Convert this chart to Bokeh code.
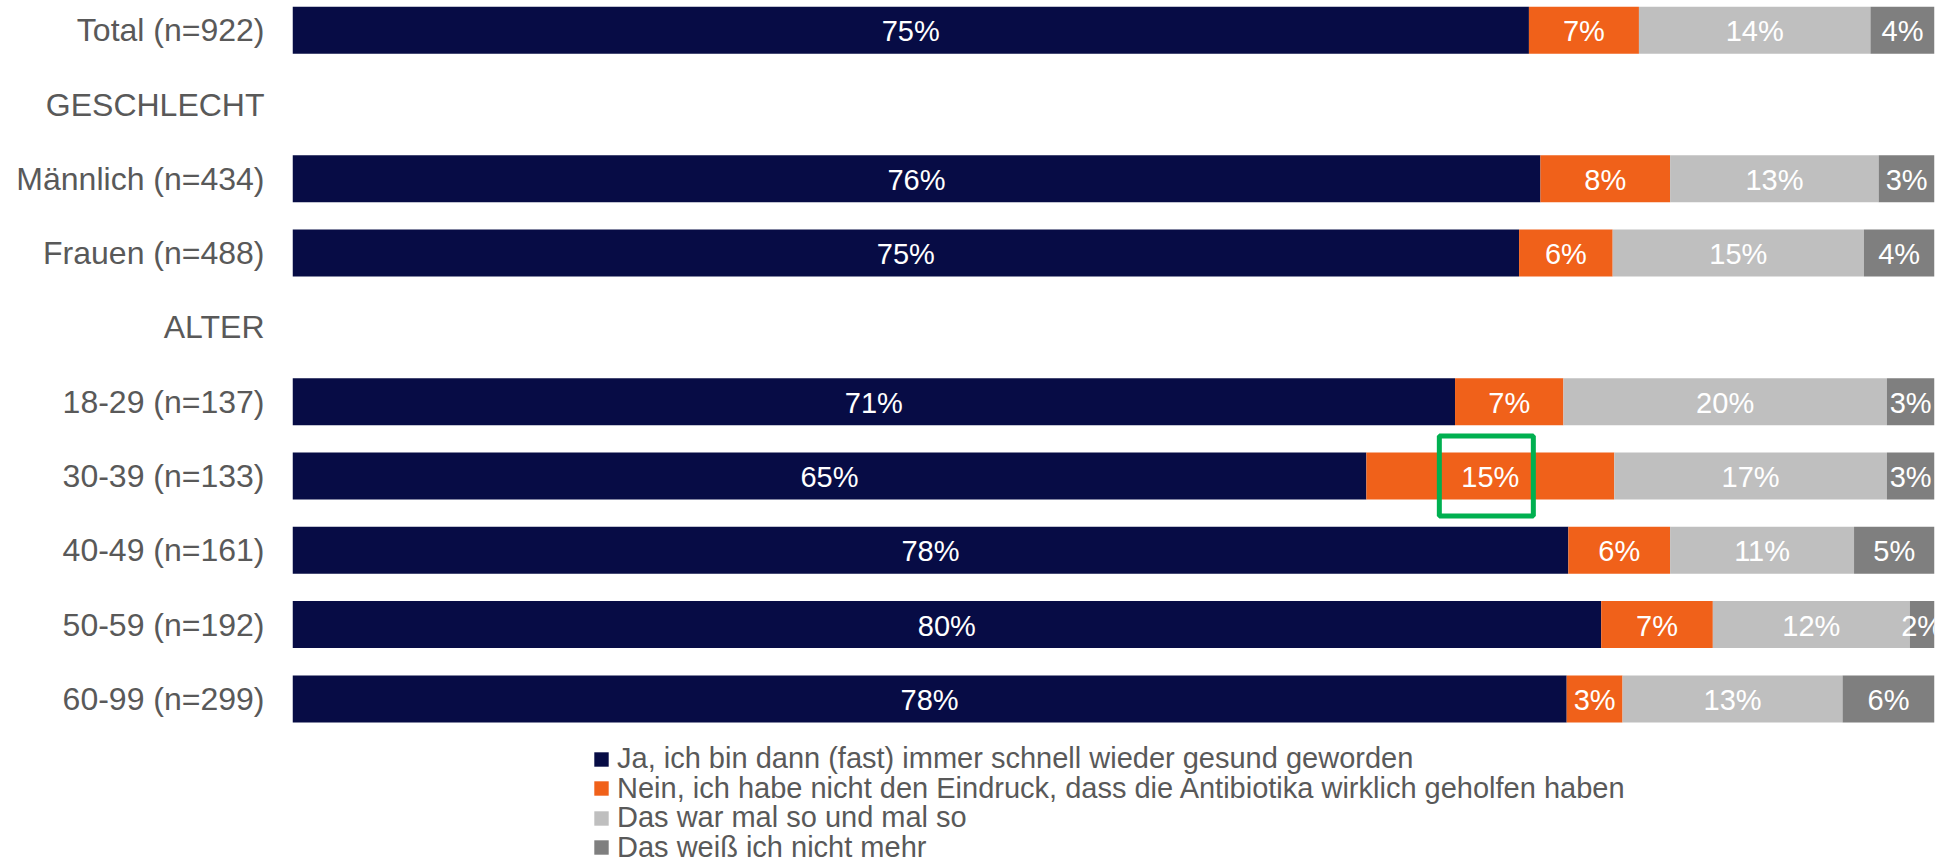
from bokeh.plotting import figure
from bokeh.models import (ColumnDataSource, Range1d, FixedTicker, Legend, LegendItem)
from bokeh.core.properties import value
from bokeh.embed import file_html
from bokeh.resources import INLINE

# ---------------- data ----------------
categories = ["Total (n=922)", "GESCHLECHT", "Männlich (n=434)", "Frauen (n=488)",
              "ALTER", "18-29 (n=137)", "30-39 (n=133)", "40-49 (n=161)",
              "50-59 (n=192)", "60-99 (n=299)"]
bar_rows = ["Total (n=922)", "Männlich (n=434)", "Frauen (n=488)", "18-29 (n=137)",
            "30-39 (n=133)", "40-49 (n=161)", "50-59 (n=192)", "60-99 (n=299)"]
ja = [75.3, 76.0, 74.7, 70.8, 65.4, 77.7, 79.7, 77.6]
nein = [6.7, 7.9, 5.7, 6.6, 15.1, 6.2, 6.8, 3.4]
mal = [14.1, 12.7, 15.3, 19.7, 16.6, 11.2, 12.0, 13.4]
weiss = [3.9, 3.4, 4.3, 2.9, 2.9, 4.9, 1.5, 5.6]
series_names = ["Ja, ich bin dann (fast) immer schnell wieder gesund geworden",
                "Nein, ich habe nicht den Eindruck, dass die Antibiotika wirklich geholfen haben",
                "Das war mal so und mal so",
                "Das weiß ich nicht mehr"]
colors = ["#070C45", "#F0611A", "#BFBFBF", "#7F7F7F"]
highlight_row = "30-39 (n=133)"
highlight_series = 1

# ---------------- layout ----------------
W, H = 1955, 862
FONT = "Liberation Sans"
ROW = 74.3           # px per category
TOP0 = 29.7          # px from figure top to first category centre
FRAME_LEFT = 292
FRAME_RIGHT = 1934
PX_PER_UNIT = (FRAME_RIGHT - FRAME_LEFT) / 100.0

y_of = {c: i for i, c in enumerate(categories)}
ys = [y_of[c] for c in bar_rows]

p = figure(width=W, height=H, output_backend="svg", toolbar_location=None,
           x_axis_location=None, min_border_left=FRAME_LEFT,
           min_border_right=W - FRAME_RIGHT,
           min_border_top=0, min_border_bottom=0,
           x_range=Range1d(0, 100),
           y_range=Range1d(start=(H - TOP0) / ROW, end=-TOP0 / ROW))
p.outline_line_color = None
p.grid.visible = False
p.background_fill_color = "white"
p.border_fill_color = "white"

keys = ["ja", "nein", "mal", "weiss"]
src = ColumnDataSource(dict(y=ys, ja=ja, nein=nein, mal=mal, weiss=weiss))
rends = p.hbar_stack(keys, y="y", height=0.633, color=colors, source=src,
                     line_color=None)

# segment labels
series = [ja, nein, mal, weiss]
lx, ly, lt = [], [], []
for j in range(len(bar_rows)):
    left = 0.0
    for s in series:
        v = s[j]
        lx.append(left + v / 2)
        ly.append(ys[j])
        lt.append(f"{int(v + 0.5)}%")
        left += v
p.text(x=lx, y=ly, text=lt, text_align="center", text_baseline="middle",
       text_color="white", text_font=value(FONT), text_font_size="29px", y_offset=1)

# highlight box around one label
BOX_DX = -4          # px shift of the box relative to the label centre
hj = bar_rows.index(highlight_row)
hx = sum(s[hj] for s in series[:highlight_series]) + series[highlight_series][hj] / 2
p.rect(x=[hx + BOX_DX / PX_PER_UNIT], y=[ys[hj]], width=94, height=80,
       width_units="screen", height_units="screen", fill_alpha=0,
       line_color="#00B050", line_width=5)

# y axis
ax = p.yaxis[0]
ax.ticker = FixedTicker(ticks=list(range(len(categories))))
ax.major_label_overrides = {i: c for i, c in enumerate(categories)}
ax.major_label_text_font = FONT
ax.major_label_text_font_size = "32px"
ax.major_label_text_color = "#595959"
ax.major_tick_line_color = None
ax.major_tick_out = 0
ax.major_tick_in = 0
ax.minor_tick_line_color = None
ax.minor_tick_out = 0
ax.axis_line_color = None
ax.major_label_standoff = 28

# legend: one entry per row, stacked below the bars
LEG_X = 300            # px from frame left to the legend glyph box
LEG_ROW0 = 759         # px from top to the first entry's centre
LEG_STEP = 29.5        # px between entries
ITEM_H = 32.4          # height Bokeh gives one entry at this font size
for k, (n, r) in enumerate(zip(series_names, rends)):
    centre = LEG_ROW0 + k * LEG_STEP
    lg = Legend(items=[LegendItem(label=n, renderers=[r])],
                location=(LEG_X, H - centre - ITEM_H / 2), orientation="vertical",
                glyph_width=18, glyph_height=18, label_standoff=7, spacing=0,
                padding=0, margin=0, label_height=20,
                label_text_font=FONT, label_text_font_size="29px",
                label_text_color="#595959",
                border_line_color=None, background_fill_alpha=0)
    p.add_layout(lg)

open("out.html", "w").write(file_html(p, INLINE))
